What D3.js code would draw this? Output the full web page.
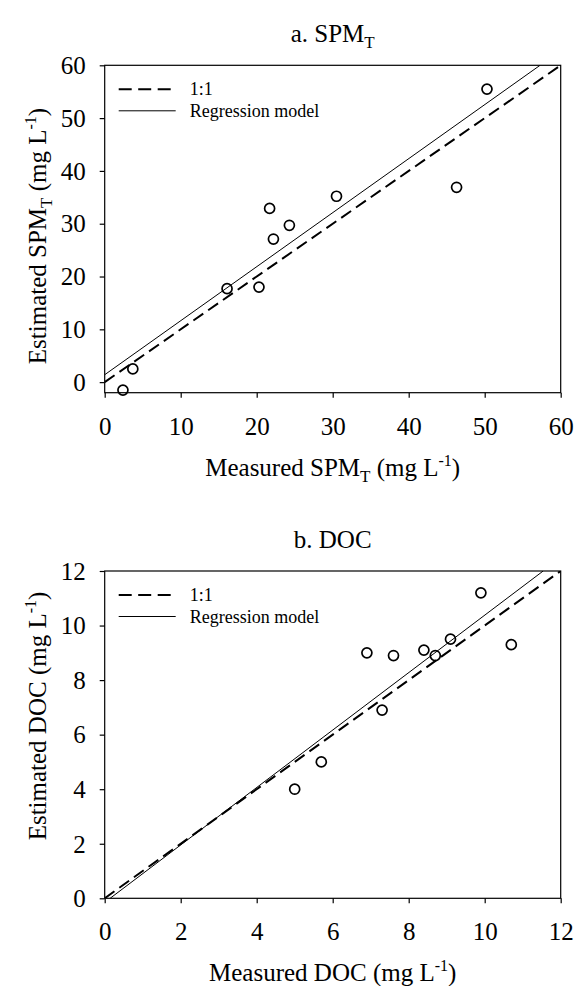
<!DOCTYPE html>
<html><head><meta charset="utf-8">
<script src="https://cdn.jsdelivr.net/npm/d3@7"></script>
<style>
body{margin:0;background:#fff}
svg{display:block}
text{font-family:"Liberation Serif","Times New Roman",Times,serif;fill:#000}
</style>
</head><body>
<svg id="c" width="574" height="986"></svg>
<script>
// ---- data ----
const spmMeasured  = [2.4, 3.7, 16.1, 20.3, 21.7, 22.2, 24.3, 30.5, 46.3, 50.3];
const spmEstimated = [-1.5, 2.5, 17.7, 18.0, 32.9, 27.1, 29.7, 35.2, 36.9, 55.5];
const docMeasured  = [5.0, 5.7, 6.9, 7.3, 7.6, 8.4, 8.7, 9.1, 9.9, 10.7];
const docEstimated = [4.0, 5.0, 9.0, 6.9, 8.9, 9.1, 8.9, 9.5, 11.2, 9.3];
const spmTicks = [0, 10, 20, 30, 40, 50, 60];
const docTicks = [0, 2, 4, 6, 8, 10, 12];
const spmRegression = [1.023, 1.4];   // slope, intercept
const docRegression = [1.053, -0.15]; // slope, intercept
const legendLabels = ["1:1", "Regression model"];

// ---- drawing ----
const svg = d3.select("#c");
const L = 104.7, R = 560.7;

function rich(sel, parts, base) {
  parts.forEach(p => {
    const t = sel.append("tspan").text(p.t);
    if (p.sub) t.attr("font-size", base * 0.68).attr("dy", 6);
    else if (p.sup) t.attr("font-size", base * 0.64).attr("dy", -10);
    if (p.after) t.attr("dy", p.after);
  });
}

const panels = [
  {
    title: [{t: "a. SPM"}, {t: "T", sub: true}, {t: "", after: -6}],
    xLabel: [{t: "Measured SPM"}, {t: "T", sub: true}, {t: " (mg L", after: -6}, {t: "-1", sup: true}, {t: ")", after: 10}],
    yLabel: [{t: "Estimated SPM"}, {t: "T", sub: true}, {t: " (mg L", after: -6}, {t: "-1", sup: true}, {t: ")", after: 10}],
    top: 65.3, bottom: 392.7, xDomain: [0, 60], yDomain: [-2, 60],
    ticks: spmTicks, xs: spmMeasured, ys: spmEstimated, reg: spmRegression, yLabelC: 236
  },
  {
    title: [{t: "b. DOC"}],
    xLabel: [{t: "Measured DOC (mg L"}, {t: "-1", sup: true}, {t: ")", after: 10}],
    yLabel: [{t: "Estimated DOC (mg L"}, {t: "-1", sup: true}, {t: ")", after: 10}],
    top: 571, bottom: 898.3, xDomain: [0, 12], yDomain: [0, 12],
    ticks: docTicks, xs: docMeasured, ys: docEstimated, reg: docRegression, yLabelC: 716
  }
];

panels.forEach((p, i) => {
  const x = d3.scaleLinear().domain(p.xDomain).range([L, R]);
  const y = d3.scaleLinear().domain(p.yDomain).range([p.bottom, p.top]);
  const g = svg.append("g");

  const clipId = "clip" + i;
  svg.append("clipPath").attr("id", clipId).append("rect")
    .attr("x", L).attr("y", p.top).attr("width", R - L).attr("height", p.bottom - p.top);

  // axes
  const xa = g.append("g").attr("transform", `translate(0,${p.bottom})`)
    .call(d3.axisBottom(x).tickValues(p.ticks).tickSize(5).tickSizeOuter(0).tickFormat(d3.format("d")));
  xa.selectAll("text").attr("y", 42).attr("dy", null).attr("font-size", 25)
    .style("font-family", '"Liberation Serif","Times New Roman",serif');
  const ya = g.append("g").attr("transform", `translate(${L},0)`)
    .call(d3.axisLeft(y).tickValues(p.ticks).tickSize(5).tickSizeOuter(0).tickFormat(d3.format("d")));
  ya.selectAll("text").attr("x", -19).attr("dy", "0.33em").attr("font-size", 25)
    .style("font-family", '"Liberation Serif","Times New Roman",serif');
  g.selectAll(".domain").remove();
  g.selectAll(".tick line").attr("stroke", "#000").attr("stroke-width", 1.2);

  // frame
  g.append("rect").attr("x", L).attr("y", p.top).attr("width", R - L).attr("height", p.bottom - p.top)
    .attr("fill", "none").attr("stroke", "#000").attr("stroke-width", 1.2);

  const lines = g.append("g").attr("clip-path", `url(#${clipId})`);
  // 1:1 line
  const lo = Math.max(p.xDomain[0], p.yDomain[0]), hi = Math.min(p.xDomain[1], p.yDomain[1]);
  lines.append("line").attr("x1", x(lo)).attr("y1", y(lo)).attr("x2", x(hi)).attr("y2", y(hi))
    .attr("stroke", "#000").attr("stroke-width", 2).attr("stroke-dasharray", "12,6");
  // regression line
  const [m, b] = p.reg;
  const rx0 = Math.max(p.xDomain[0], (p.yDomain[0] - b) / m);
  const rx1 = Math.min(p.xDomain[1], (p.yDomain[1] - b) / m);
  lines.append("line").attr("x1", x(rx0)).attr("y1", y(m * rx0 + b)).attr("x2", x(rx1)).attr("y2", y(m * rx1 + b))
    .attr("stroke", "#000").attr("stroke-width", 1);

  // points
  g.append("g").selectAll("circle").data(p.xs.map((v, k) => [v, p.ys[k]])).join("circle")
    .attr("cx", d => x(d[0])).attr("cy", d => y(d[1])).attr("r", 5)
    .attr("fill", "none").attr("stroke", "#000").attr("stroke-width", 1.7);

  // legend
  const lg = g.append("g").attr("transform", `translate(${L},${p.top})`);
  lg.append("line").attr("x1", 14).attr("x2", 66).attr("y1", 24).attr("y2", 24)
    .attr("stroke", "#000").attr("stroke-width", 2).attr("stroke-dasharray", "13,6.5");
  lg.append("line").attr("x1", 14).attr("x2", 71).attr("y1", 45.5).attr("y2", 45.5)
    .attr("stroke", "#000").attr("stroke-width", 1);
  lg.selectAll("text").data(legendLabels).join("text")
    .attr("x", 85).attr("y", (d, k) => 30 + k * 21.5).attr("font-size", 18).text(d => d);

  // title
  const tt = svg.append("text").attr("x", (L + R) / 2).attr("y", p.top - 23)
    .attr("text-anchor", "middle").attr("font-size", 25);
  rich(tt, p.title, 25);
  // x label
  const xl = svg.append("text").attr("x", (L + R) / 2).attr("y", p.bottom + 83)
    .attr("text-anchor", "middle").attr("font-size", 25);
  rich(xl, p.xLabel, 25);
  // y label
  const yl = svg.append("text").attr("transform", `translate(46,${p.yLabelC}) rotate(-90)`)
    .attr("text-anchor", "middle").attr("font-size", 25);
  rich(yl, p.yLabel, 25);
});
</script>
</body></html>
